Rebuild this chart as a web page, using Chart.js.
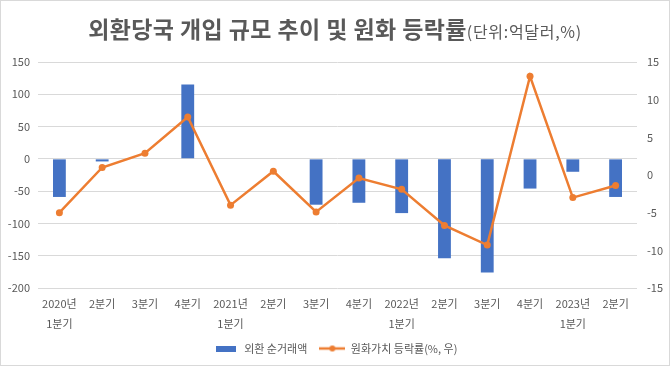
<!DOCTYPE html>
<html><head><meta charset="utf-8">
<script src="https://cdn.jsdelivr.net/npm/chart.js@4"></script>
<style>
html,body{margin:0;padding:0;background:#fff;}
#wrap{position:relative;width:670px;height:366px;overflow:hidden;background:#fff;}
#frame{position:absolute;left:0;top:0;width:670px;height:366px;box-sizing:border-box;border:1px solid #d9d9d9;pointer-events:none;}
#title{position:absolute;left:0;top:12px;width:670px;height:32px;line-height:32px;text-align:center;font-family:"Noto Sans CJK KR","Noto Sans",sans-serif;color:#595959;white-space:nowrap;}
#title b{font-size:23px;font-weight:700;letter-spacing:0.4px;}
#title span{font-size:16px;font-weight:400;letter-spacing:0.7px;}
canvas{position:absolute;left:0;top:0;}
</style></head>
<body>
<div id="wrap">
<canvas id="c" width="670" height="366"></canvas>
<div id="title"><b>외환당국 개입 규모 추이 및 원화 등락률</b><span>(단위:억달러,%)</span></div>
<div id="frame"></div>
</div>
<script>
const categories = [["2020년","1분기"],"2분기","3분기","4분기",["2021년","1분기"],"2분기","3분기","4분기",["2022년","1분기"],"2분기","3분기","4분기",["2023년","1분기"],"2분기"];
const netTrade = [-59,-4,0,115,0,0,-71,-68,-84,-154,-176,-46,-20,-59];
const wonChange = [-5.0,1.0,2.9,7.7,-4.0,0.5,-4.9,-0.4,-1.9,-6.7,-9.3,13.1,-3.0,-1.4];
const seriesNames = ["외환 순거래액","원화가치 등락률(%, 우)"];

const BLUE = "#4472C4", ORANGE = "#ED7D31", TXT = "#595959", GRID = "#d9d9d9";
const FONT = "'Noto Sans CJK KR','Noto Sans',sans-serif";

function barIcon(){
  const c=document.createElement('canvas'); c.width=20; c.height=6;
  const x=c.getContext('2d'); x.fillStyle=BLUE; x.fillRect(0,0,20,6); return c;
}
function lineIcon(){
  const c=document.createElement('canvas'); c.width=26; c.height=8;
  const x=c.getContext('2d'); x.strokeStyle=ORANGE; x.lineWidth=2.5;
  x.beginPath(); x.moveTo(0,4); x.lineTo(26,4); x.stroke();
  x.fillStyle=ORANGE; x.beginPath(); x.arc(13,4,3,0,Math.PI*2); x.fill(); return c;
}
const icons=[barIcon(),lineIcon()];

new Chart(document.getElementById('c'),{
  data:{
    labels:categories,
    datasets:[
      {type:'bar',label:seriesNames[0],data:netTrade,backgroundColor:BLUE,borderWidth:0,yAxisID:'y',order:2,barPercentage:0.3,categoryPercentage:1.0},
      {type:'line',label:seriesNames[1],data:wonChange,borderColor:ORANGE,backgroundColor:ORANGE,borderWidth:2.5,pointRadius:3.5,pointBackgroundColor:ORANGE,pointBorderWidth:0,tension:0,yAxisID:'y1',order:1}
    ]
  },
  options:{
    responsive:false,animation:false,
    layout:{padding:{top:62,left:0,right:0,bottom:2}},
    plugins:{
      title:{display:false},tooltip:{enabled:false},
      legend:{position:'bottom',
        labels:{usePointStyle:true,pointStyleWidth:26,padding:12,color:TXT,font:{family:FONT,size:11},
          generateLabels:(chart)=>chart.data.datasets.map((d,i)=>({text:d.label,pointStyle:icons[i],fillStyle:i?ORANGE:BLUE,strokeStyle:'transparent',lineWidth:0,hidden:false,datasetIndex:i,fontColor:TXT}))
        }
      }
    },
    scales:{
      x:{grid:{display:false},border:{display:false},
        ticks:{color:TXT,font:{family:FONT,size:11,lineHeight:1.8},maxRotation:0,autoSkip:false,padding:-2},
        afterFit:(s)=>{s.height=43;}},
      y:{position:'left',min:-200,max:150,
        ticks:{stepSize:50,color:TXT,font:{family:FONT,size:11},padding:8},
        grid:{color:GRID,drawTicks:false},border:{display:false},
        afterFit:(s)=>{s.width=38;}},
      y1:{position:'right',min:-15,max:15,
        ticks:{stepSize:5,color:TXT,font:{family:FONT,size:11},padding:10},
        grid:{display:false,drawTicks:false},border:{display:false},
        afterFit:(s)=>{s.width=33;}}
    }
  }
});
</script>
</body></html>
